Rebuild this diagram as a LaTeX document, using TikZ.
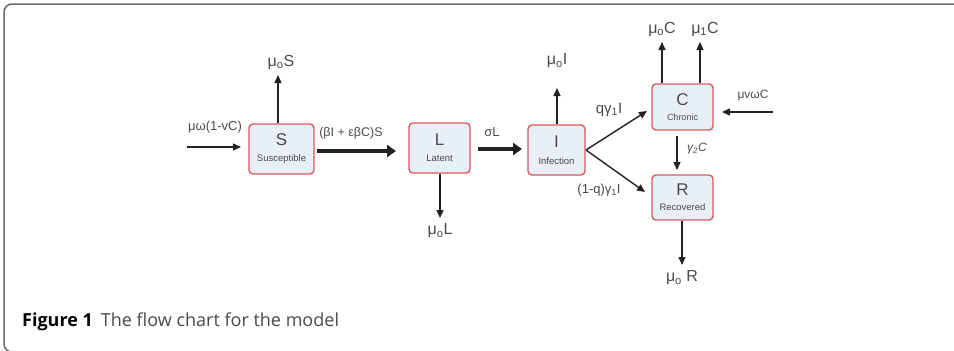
\documentclass[tikz,border=0pt]{standalone}
\usepackage{fontspec}
\setmainfont{Liberation Sans}
\newfontfamily\capfont{Open Sans}
\usetikzlibrary{arrows.meta}
\definecolor{boxred}{HTML}{D65C5C}
\definecolor{boxfill}{HTML}{E9EFF8}
\definecolor{txt}{HTML}{4A4A4A}
\definecolor{arr}{HTML}{222222}
\definecolor{frame}{HTML}{6A6A6A}
\newcommand{\fs}[1]{\fontsize{#1}{#1}\selectfont}
\tikzset{
  stbox/.style={draw=boxred, fill=boxfill, line width=1.4pt, rounded corners=4pt,
    inner sep=0pt, align=center, text=txt},
  flow/.style={draw=arr, line width=1.4pt, -{Triangle[length=8pt,width=7pt]}},
  bigflow/.style={draw=arr, line width=4pt, -{Triangle[length=9pt,width=12pt]}},
  lab/.style={text=txt, inner sep=0pt},
}
\begin{document}
\begin{tikzpicture}[x=1pt,y=-1pt]
\useasboundingbox (0,0) rectangle (954,351);
\clip (0,0) rectangle (954,351);
\fill[white] (0,0) rectangle (954,351);
\draw[frame, line width=1.5pt, rounded corners=8pt] (960,4) -- (4,4) -- (4,352) -- (30,352);

% boxes
\node[stbox, minimum width=65pt, minimum height=50pt] (S) at (281.5,149)
  {{\fs{17}S}\\[4pt]{\fs{9.5}Susceptible}};
\node[stbox, minimum width=61pt, minimum height=50pt] (L) at (439.5,148)
  {{\fs{17}L}\\[4pt]{\fs{9.5}Latent}};
\node[stbox, minimum width=57pt, minimum height=50pt] (I) at (556.5,150)
  {{\fs{17}I}\\[5pt]{\fs{9.5}Infection}};
\node[stbox, minimum width=61pt, minimum height=46pt] (C) at (682.5,107)
  {{\fs{17}C}\\[3pt]{\fs{9}Chronic}};
\node[stbox, minimum width=61pt, minimum height=45pt] (R) at (682.5,197.5)
  {{\fs{17}R}\\[3pt]{\fs{9.5}Recovered}};

% free ends
\coordinate (sin) at (187,147);
\coordinate (sup) at (278,75);
\coordinate (ldn) at (440,218);
\coordinate (iup) at (557,88);
\coordinate (cup1) at (662,42);
\coordinate (cup2) at (700,42);
\coordinate (cin) at (773,112);
\coordinate (rdn) at (682,265);

% arrows
\draw[flow] (sin) -- (241,147);
\draw[flow] (S.north -| sup) -- (sup);
\draw[bigflow] (317,151) -- (396,151);
\draw[flow] (L.south -| ldn) -- (ldn);
\draw[bigflow] (478,149) -- (522,149);
\draw[flow] (I.north -| iup) -- (iup);
\draw[flow] (586,150) -- (647,111);
\draw[flow] (586,150) -- (645,192);
\draw[flow] (C.north -| cup1) -- (cup1);
\draw[flow] (C.north -| cup2) -- (cup2);
\draw[flow] (cin) -- (722,112);
\draw[flow] (677,136) -- (677,170);
\draw[flow] (R.south -| rdn) -- (rdn);

% labels
\node[lab] (l1) at (215,127) {\fs{13}μω(1-vC)};
\node[lab] (l2) at (281,62) {\fs{16}μ\textsubscript{o}S};
\node[lab] (l3) at (351,133) {\fs{12.5}(βI + εβC)S};
\node[lab] (l4) at (440,231) {\fs{16}μ\textsubscript{o}L};
\node[lab] (l5) at (492,132) {\fs{13}σL};
\node[lab] (l6) at (557,61) {\fs{16}μ\textsubscript{o}I};
\node[lab] (l7) at (609,110) {\fs{15}qγ\textsubscript{1}I};
\node[lab] (l8) at (599,190) {\fs{13}(1-q)γ\textsubscript{1}I};
\node[lab] (l9) at (662,29) {\fs{16}μ\textsubscript{o}C};
\node[lab] (l10) at (705,29) {\fs{16}μ\textsubscript{1}C};
\node[lab] (l11) at (753,95) {\fs{12}μvωC};
\node[lab] (l12) at (697,149) {\fs{12}\itshape γ\textsubscript{2}C};
\node[lab] (l13) at (682,278) {\fs{16}μ\textsubscript{o} R};

\node[anchor=base west, inner sep=0pt, text=black] (cap) at (22,326)
  {\capfont\fs{18}\textbf{Figure 1}\hspace{8pt}\textcolor{txt}{The flow chart for the model}};
\end{tikzpicture}
\end{document}
